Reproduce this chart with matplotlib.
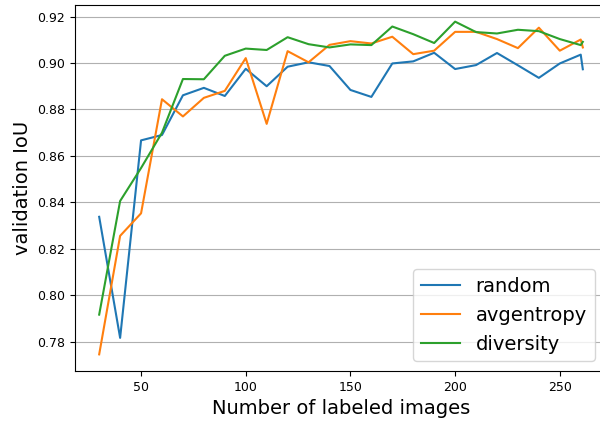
import numpy as np
import matplotlib
matplotlib.use("Agg")
import matplotlib.pyplot as plt

# labeled-set sizes
n_labeled = [30, 40, 50, 60, 70, 80, 90, 100, 110, 120, 130, 140, 150, 160,
             170, 180, 190, 200, 210, 220, 230, 240, 250, 260, 261]

iou_random = [0.8338, 0.7817, 0.8667, 0.8690, 0.8861, 0.8893, 0.8858, 0.8975,
              0.8900, 0.8984, 0.9003, 0.8987, 0.8884, 0.8854, 0.8998, 0.9007,
              0.9044, 0.8974, 0.8991, 0.9043, 0.8990, 0.8936, 0.8998, 0.9036,
              0.8973]
iou_avgentropy = [0.7746, 0.8256, 0.8353, 0.8844, 0.8770, 0.8850, 0.8880, 0.9021,
                  0.8738, 0.9051, 0.9003, 0.9078, 0.9094, 0.9084, 0.9113, 0.9038,
                  0.9053, 0.9134, 0.9134, 0.9103, 0.9064, 0.9152, 0.9053, 0.9101,
                  0.9067]
iou_diversity = [0.7917, 0.8406, 0.8548, 0.8700, 0.8931, 0.8930, 0.9031, 0.9062,
                 0.9056, 0.9111, 0.9081, 0.9067, 0.9080, 0.9077, 0.9157, 0.9124,
                 0.9086, 0.9178, 0.9133, 0.9127, 0.9143, 0.9137, 0.9103, 0.9077,
                 0.9091]

fig = plt.figure(figsize=(6.0, 4.21), dpi=100)
ax = fig.add_axes([75 / 600, 50 / 421, 532 / 600, 366 / 421])

ax.plot(n_labeled, iou_random, label="random")
ax.plot(n_labeled, iou_avgentropy, label="avgentropy")
ax.plot(n_labeled, iou_diversity, label="diversity")

ax.grid(axis="y", color="#b0b0b0")
ax.set_xticks([50, 100, 150, 200, 250])
ax.tick_params(labelsize=9)
ax.set_xlabel("Number of labeled images", fontsize=14)
ax.set_ylabel("validation IoU", fontsize=14)
ax.legend(loc="lower right", fontsize=14, bbox_to_anchor=(0.995, 0.0))

fig.savefig("out.png", dpi=100)
